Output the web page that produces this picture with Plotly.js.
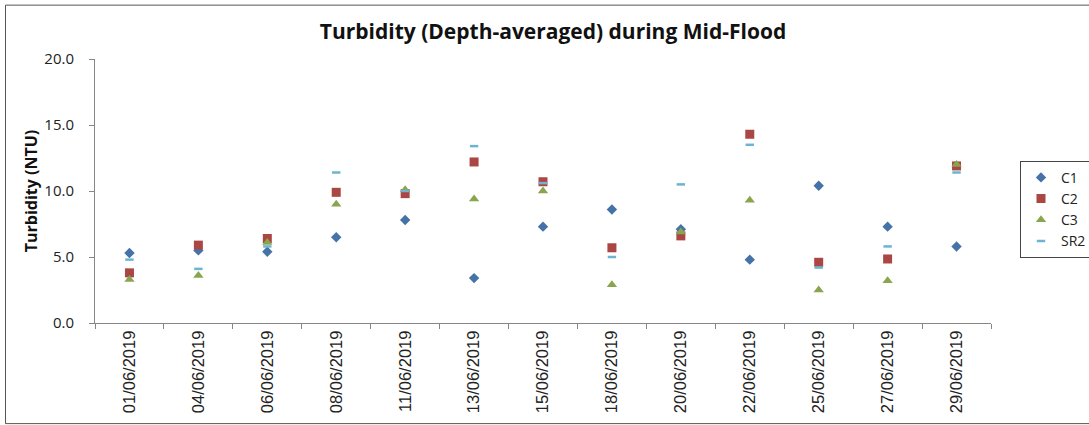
<!DOCTYPE html>
<html>
<head>
<meta charset="utf-8">
<script src="https://cdn.plot.ly/plotly-3.0.1.min.js"></script>
<style>
html,body{margin:0;padding:0;background:#fff;}
#chart{width:1089px;height:425px;}
</style>
</head>
<body>
<div id="chart"></div>
<script>
const dates = ["01/06/2019","04/06/2019","06/06/2019","08/06/2019","11/06/2019","13/06/2019","15/06/2019","18/06/2019","20/06/2019","22/06/2019","25/06/2019","27/06/2019","29/06/2019"];
const c1  = [5.3, 5.5, 5.4, 6.5, 7.8, 3.4, 7.3, 8.6, 7.1, 4.8, 10.4, 7.3, 5.8];
const c2  = [3.8, 5.9, 6.4, 9.9, 9.8, 12.2, 10.7, 5.7, 6.6, 14.3, 4.6, 4.85, 11.9];
const c3  = [3.3, 3.6, 6.1, 9.0, 10.1, 9.4, 10.0, 2.9, 6.9, 9.3, 2.5, 3.2, 12.0];
const sr2 = [4.8, 4.1, 5.8, 11.4, 10.0, 13.4, 10.6, 5.0, 10.5, 13.5, 4.2, 5.8, 11.4];

const names = ["C1","C2","C3","SR2"];
const series = [c1, c2, c3, sr2];
const colors = ["#4572A7","#AA4643","#89A54E","#6CB4D0"];
const symbols = ["diamond","square","triangle-up","line-ew"];
const sizes = [8, 9, 9, 6];

const traces = series.map((vals, i) => ({
  type: "scatter",
  mode: "markers",
  name: names[i],
  x: dates,
  y: vals,
  marker: {
    symbol: symbols[i],
    size: sizes[i],
    color: colors[i],
    line: symbols[i] === "line-ew" ? {color: colors[i], width: 2.5} : {width: 0}
  }
}));

const W = 1089, H = 425;
const L = 95, R = 991, T = 59.3, B = 323;
const pw = R - L, ph = B - T;
const px = v => (v - L) / pw;
const py = v => (B - v) / ph;

const layout = {
  width: W, height: H,
  margin: {l: L, r: W - R, t: T, b: H - B, pad: 0, autoexpand: false},
  paper_bgcolor: "#fff",
  plot_bgcolor: "#fff",
  showlegend: true,
  font: {family: "Open Sans, sans-serif", color: "#222"},
  title: {
    text: "<b>Turbidity (Depth-averaged) during Mid-Flood</b>",
    font: {family: "Open Sans, sans-serif", size: 21, color: "#111"},
    x: 553 / W, xref: "container", xanchor: "center",
    y: 1 - 32 / H, yref: "container", yanchor: "middle"
  },
  xaxis: {
    type: "category",
    range: [-0.5, 12.5],
    tickson: "boundaries",
    ticks: "outside",
    ticklen: 5,
    tickcolor: "#868686",
    showline: true,
    linecolor: "#868686",
    linewidth: 1,
    showgrid: false,
    zeroline: false,
    tickangle: -90,
    tickfont: {family: "Liberation Sans, Arial, sans-serif", size: 16.5, color: "#222"},
    automargin: false,
    fixedrange: true
  },
  yaxis: {
    range: [0, 20],
    tickvals: [0, 5, 10, 15, 20],
    ticktext: ["0.0","5.0","10.0","15.0","20.0"],
    ticks: "outside",
    ticklen: 5,
    tickcolor: "#868686",
    showline: true,
    linecolor: "#868686",
    linewidth: 1,
    showgrid: false,
    zeroline: false,
    ticklabelstandoff: 12,
    tickfont: {family: "Open Sans, sans-serif", size: 15, color: "#222"},
    title: {
      text: "<b>Turbidity (NTU)</b>",
      font: {family: "Open Sans, sans-serif", size: 16, color: "#111"},
      standoff: 2
    },
    automargin: false,
    fixedrange: true
  },
  legend: {
    x: px(1020), xanchor: "left",
    y: py(161), yanchor: "top",
    bordercolor: "#444",
    borderwidth: 1,
    bgcolor: "#fff",
    font: {family: "Open Sans, sans-serif", size: 14, color: "#222"},
    itemwidth: 30,
    tracegroupgap: 0
  },
  shapes: [{
    type: "rect", xref: "paper", yref: "paper",
    x0: px(5.5), x1: px(1100), y0: py(423.5), y1: py(5.5),
    line: {color: "#555", width: 1},
    fillcolor: "rgba(0,0,0,0)"
  }]
};

Plotly.newPlot("chart", traces, layout, {displayModeBar: false, staticPlot: true});
</script>
</body>
</html>
